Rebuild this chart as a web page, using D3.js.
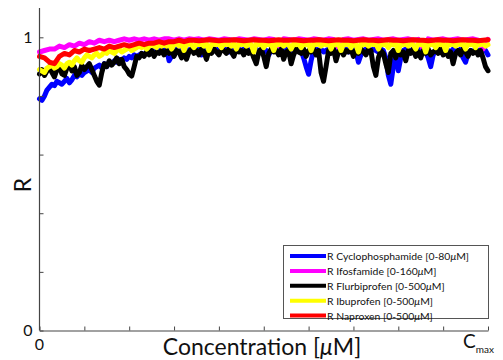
<!DOCTYPE html>
<html><head><meta charset="utf-8">
<script src="https://cdn.jsdelivr.net/npm/d3@7"></script>
<style>
html,body{margin:0;padding:0;background:#fff;}
svg{display:block;font-family:Lato,"Open Sans",sans-serif;}
</style></head>
<body><svg id="c" width="503" height="360"></svg>
<script>
// ---- data ----
const seriesNames = [
  "R Cyclophosphamide [0-80",
  "R Ifosfamide [0-160",
  "R Flurbiprofen [0-500",
  "R Ibuprofen [0-500",
  "R Naproxen [0-500"
];
const seriesColors = ["#0000ff", "#ff00ff", "#000000", "#ffff00", "#ff0000"];

const cyclophosphamide = [
  0.79,0.785,0.80,0.82,0.83,0.84,0.835,0.85,0.845,0.84,
  0.85,0.86,0.845,0.855,0.87,0.865,0.875,0.87,0.88,0.885,
  0.89,0.88,0.895,0.90,0.905,0.895,0.91,0.90,0.915,0.91,
  0.92,0.915,0.925,0.92,0.93,0.925,0.935,0.93,0.94,0.935,
  0.94,0.945,0.94,0.95,0.945,0.95,0.955,0.95,0.955,0.95,
  0.955,0.96,0.92,0.935,0.955,0.96,0.955,0.96,0.95,0.96,
  0.955,0.96,0.955,0.95,0.96,0.94,0.955,0.96,0.955,0.96,
  0.955,0.96,0.95,0.96,0.955,0.96,0.95,0.955,0.96,0.955,
  0.96,0.955,0.96,0.95,0.955,0.96,0.955,0.96,0.95,0.955,
  0.96,0.955,0.94,0.955,0.96,0.955,0.96,0.95,0.955,0.96,
  0.955,0.96,0.95,0.955,0.96,0.955,0.93,0.90,0.874,0.92,
  0.955,0.96,0.955,0.96,0.95,0.955,0.96,0.955,0.96,0.95,
  0.955,0.96,0.955,0.96,0.95,0.955,0.96,0.95,0.915,0.94,
  0.955,0.96,0.95,0.955,0.96,0.955,0.95,0.96,0.955,0.93,
  0.87,0.84,0.90,0.95,0.886,0.93,0.955,0.96,0.95,0.955,
  0.96,0.955,0.95,0.96,0.955,0.95,0.93,0.90,0.94,0.955,
  0.96,0.955,0.95,0.96,0.955,0.95,0.96,0.955,0.95,0.96,
  0.93,0.915,0.945,0.955,0.95,0.96,0.955,0.95,0.96,0.955,0.94
];
const ifosfamide = [
  0.95,0.955,0.96,0.96,0.97,0.965,0.975,0.97,0.98,0.975,0.985,
  0.98,0.99,0.985,0.99,0.985,0.99,0.995,0.99,0.995,0.99,
  0.995,0.99,0.995,0.99,0.995,0.995,0.99,0.995,0.99,0.995,
  0.993,0.995,0.99,0.995,0.993,0.99,0.995,0.993,0.99,0.995,
  0.993,0.99,0.995,0.993,0.99,0.995,0.993,0.97,0.995,0.993,
  0.99,0.995,0.993,0.99,0.995,0.993,0.99,0.995,0.993,0.965,
  0.993,0.995,0.99,0.993,0.995,0.99,0.993,0.995,0.99,0.993,
  0.995,0.99,0.993,0.995,0.99,0.993,0.96,0.995,0.99,0.993,
  0.995,0.99,0.993,0.995,0.99,0.993,0.995,0.99,0.96,0.993
];
const flurbiprofen = [
  0.875,0.89,0.87,0.885,0.90,0.88,0.865,0.89,0.90,0.875,
  0.87,0.895,0.91,0.885,0.90,0.87,0.88,0.905,0.89,0.90,
  0.91,0.89,0.87,0.85,0.837,0.88,0.91,0.90,0.92,0.905,
  0.915,0.93,0.91,0.925,0.90,0.89,0.875,0.868,0.90,0.935,
  0.93,0.945,0.935,0.95,0.94,0.955,0.935,0.95,0.945,0.955,
  0.94,0.955,0.945,0.96,0.935,0.955,0.95,0.93,0.955,0.925,
  0.95,0.96,0.945,0.955,0.94,0.96,0.95,0.925,0.955,0.945,
  0.96,0.95,0.94,0.96,0.955,0.945,0.96,0.95,0.935,0.96,
  0.95,0.955,0.94,0.96,0.945,0.955,0.93,0.91,0.95,0.96,
  0.935,0.90,0.945,0.96,0.95,0.955,0.94,0.96,0.925,0.95,
  0.955,0.91,0.94,0.96,0.95,0.945,0.96,0.935,0.955,0.95,
  0.96,0.94,0.955,0.88,0.85,0.90,0.955,0.945,0.96,0.92,
  0.95,0.96,0.94,0.955,0.95,0.96,0.935,0.955,0.945,0.96,
  0.95,0.94,0.96,0.955,0.90,0.87,0.93,0.955,0.945,0.91,
  0.88,0.945,0.955,0.93,0.96,0.94,0.95,0.92,0.955,0.945,
  0.96,0.935,0.95,0.93,0.955,0.945,0.96,0.94,0.95,0.955,
  0.945,0.96,0.94,0.955,0.935,0.95,0.91,0.945,0.955,0.94,
  0.96,0.95,0.935,0.955,0.945,0.96,0.94,0.955,0.93,0.90,0.886
];
const ibuprofen = [
  0.89,0.885,0.88,0.895,0.90,0.905,0.895,0.90,0.91,0.905,
  0.895,0.91,0.915,0.905,0.92,0.93,0.92,0.915,0.93,0.94,
  0.935,0.93,0.94,0.945,0.935,0.94,0.95,0.945,0.955,0.95,
  0.945,0.955,0.96,0.95,0.955,0.96,0.965,0.955,0.96,0.965,
  0.97,0.965,0.97,0.96,0.97,0.975,0.97,0.965,0.975,0.97,
  0.975,0.97,0.978,0.96,0.975,0.978,0.97,0.978,0.955,0.975,
  0.978,0.975,0.965,0.978,0.975,0.978,0.97,0.978,0.955,0.975,
  0.978,0.975,0.978,0.965,0.978,0.975,0.978,0.97,0.978,0.96,
  0.978,0.975,0.978,0.97,0.978,0.975,0.95,0.978,0.975,0.978,
  0.965,0.978,0.975,0.978,0.955,0.978,0.975,0.978,0.97,0.978,
  0.975,0.96,0.978,0.975,0.978,0.965,0.978,0.975,0.978,0.955,
  0.978,0.975,0.978,0.97,0.978,0.975,0.978,0.96,0.978,0.975,
  0.978,0.955,0.978,0.975,0.978,0.965,0.978,0.975,0.95,0.978,
  0.975,0.978,0.97,0.978,0.975,0.978,0.96,0.978,0.975,0.978,
  0.965,0.978,0.975,0.978,0.955,0.978,0.975,0.978,0.97,0.978,
  0.975,0.96,0.978,0.975,0.978,0.95,0.978,0.975,0.978,0.965,
  0.978,0.975,0.978,0.955,0.978,0.975,0.978,0.97,0.978,0.975,
  0.978,0.96,0.978,0.975,0.978,0.965,0.978,0.975,0.978,0.97,0.975
];
const naproxen = [
  0.935,0.93,0.915,0.91,0.935,0.945,0.94,0.955,0.95,0.96,0.955,
  0.96,0.965,0.96,0.97,0.965,0.97,0.975,0.97,0.975,0.98,
  0.975,0.98,0.98,0.985,0.98,0.985,0.985,0.99,0.985,0.99,
  0.99,0.988,0.99,0.992,0.99,0.988,0.99,0.99,0.992,0.99,
  0.988,0.99,0.992,0.99,0.99,0.988,0.99,0.992,0.99,0.99,
  0.992,0.99,0.988,0.99,0.99,0.992,0.99,0.988,0.99,0.992,
  0.99,0.99,0.988,0.99,0.992,0.99,0.99,0.988,0.99,0.992,
  0.99,0.99,0.988,0.99,0.992,0.99,0.99,0.988,0.99,0.992,
  0.99,0.99,0.988,0.99,0.992,0.99,0.99,0.988,0.99,0.992
];
const allSeries = [cyclophosphamide, ifosfamide, flurbiprofen, ibuprofen, naproxen];

const xDomain = [0, 1];
const yDomain = [0, 1.1];
const xTicks = [0,0.1,0.2,0.3,0.4,0.5,0.6,0.7,0.8,0.9,1.0];
const yTicks = [0,0.2,0.4,0.6,0.8,1.0];
const yTickLabels = {0: "0", 1: "1"};

// ---- drawing ----
const svg = d3.select("#c");
const L = 39.5, R = 488, T = 8, B = 330.5;
const x = d3.scaleLinear().domain(xDomain).range([L, R]);
const y = d3.scaleLinear().domain(yDomain).range([B, T]);

const line = d3.line()
  .x((d, i, arr) => x(xDomain[0] + (xDomain[1] - xDomain[0]) * i / (arr.length - 1)))
  .y(d => y(d))
  .curve(d3.curveLinear);

const gLines = svg.append("g");
allSeries.forEach((s, k) => {
  gLines.append("path")
    .attr("d", line(s))
    .attr("fill", "none")
    .attr("stroke", seriesColors[k])
    .attr("stroke-width", 5)
    .attr("stroke-linejoin", "round")
    .attr("stroke-linecap", "round");
});

// axes
const axisColor = "#444";
const gx = svg.append("g").attr("transform", `translate(0,${B})`)
  .call(d3.axisBottom(x).tickValues(xTicks).tickSizeInner(-4).tickSizeOuter(0).tickFormat(""));
const gy = svg.append("g").attr("transform", `translate(${L},0)`)
  .call(d3.axisLeft(y).tickValues(yTicks).tickSizeInner(-4).tickSizeOuter(0).tickFormat(""));
[gx, gy].forEach(g => {
  g.select(".domain").attr("stroke", axisColor).attr("stroke-width", 1.2);
  g.selectAll(".tick line").attr("stroke", axisColor).attr("stroke-width", 1);
});
gy.select(".domain").attr("d", `M0,${B}V${T}`);

// y tick labels
yTicks.filter(v => yTickLabels[v] !== undefined).forEach(v => {
  svg.append("text").attr("x", L - 7).attr("y", y(v) + (v === 0 ? 5 : 6))
    .attr("text-anchor", "end").attr("font-size", 16).attr("fill", "#111")
    .text(yTickLabels[v]);
});
// x tick labels
svg.append("text").attr("x", x(0)).attr("y", B + 19)
  .attr("text-anchor", "middle").attr("font-size", 16).attr("fill", "#111").text("0");
const cm = svg.append("text").attr("x", x(1) - 25).attr("y", B + 17)
  .attr("font-size", 19).attr("fill", "#111");
cm.append("tspan").text("C");
cm.append("tspan").attr("font-size", 10).attr("dy", 5).text("max");

// axis titles
const xt = svg.append("text").attr("x", 262).attr("y", 355)
  .attr("text-anchor", "middle").attr("font-size", 23).attr("fill", "#111");
xt.append("tspan").text("Concentration [");
xt.append("tspan").attr("font-style", "italic").text("\u03bc");
xt.append("tspan").text("M]");
svg.append("text").attr("transform", `translate(31,185) rotate(-90)`)
  .attr("text-anchor", "middle").attr("font-size", 23).attr("fill", "#111").text("R");

// legend
const lg = svg.append("g");
lg.append("rect").attr("x", 283.5).attr("y", 245.5).attr("width", 205).attr("height", 73)
  .attr("fill", "#fff").attr("stroke", "#555").attr("stroke-width", 1);
seriesNames.forEach((n, k) => {
  const yy = 256 + k * 14.9;
  lg.append("line").attr("x1", 290).attr("x2", 326).attr("y1", yy).attr("y2", yy)
    .attr("stroke", seriesColors[k]).attr("stroke-width", 4);
  const t = lg.append("text").attr("x", 327).attr("y", yy + 4)
    .attr("font-size", 10.4).attr("fill", "#111");
  t.append("tspan").text(n);
  t.append("tspan").attr("font-style", "italic").text("\u03bc");
  t.append("tspan").text("M]");
});
</script></body></html>
